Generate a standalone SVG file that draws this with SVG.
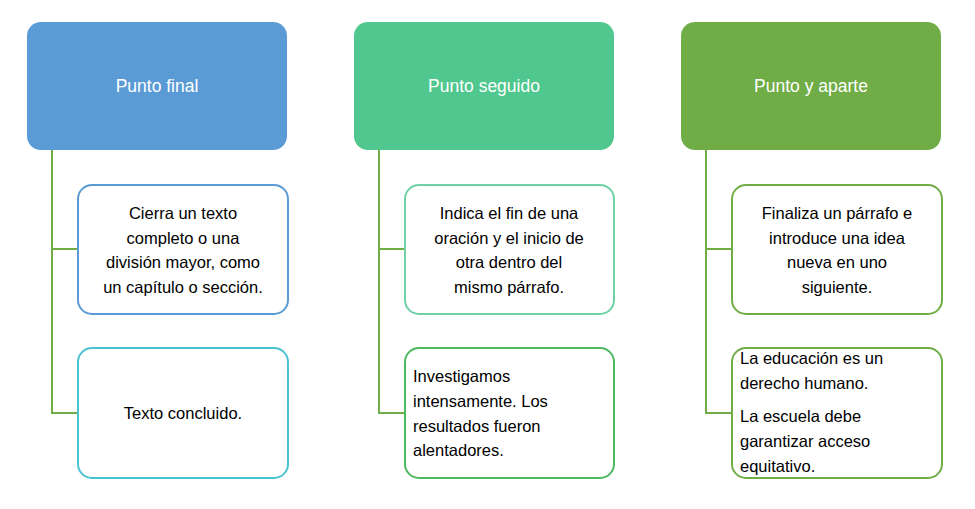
<svg xmlns="http://www.w3.org/2000/svg" width="975" height="509" viewBox="0 0 975 509">
<style>
text{font-family:"Liberation Sans",Arial,sans-serif;font-size:16.5px;fill:#000}
.h{fill:#fff;font-size:17.5px;text-anchor:middle}
.c{text-anchor:middle}
.b{fill:#fff;stroke-width:2}
.con{stroke:#70AD47;stroke-width:2;fill:none}
</style>
<rect width="975" height="509" fill="#fff"/>
<g id="connectors">
<path class="con" d="M52 150V413H78M52 249H78"/>
<path class="con" d="M379 150V413H405M379 249H405"/>
<path class="con" d="M706 150V413H732M706 249H732"/>
</g>
<g id="h1"><rect x="27" y="22" width="260" height="128" rx="14" fill="#5B9BD5"/><text class="h" x="157" y="92">Punto final</text></g>
<g id="h2"><rect x="354" y="22" width="260" height="128" rx="14" fill="#4FC78E"/><text class="h" x="484" y="92">Punto seguido</text></g>
<g id="h3"><rect x="681" y="22" width="260" height="128" rx="14" fill="#70AD47"/><text class="h" x="811" y="92">Punto y aparte</text></g>
<g id="n1a"><rect class="b" x="78" y="185" width="210" height="129" rx="14" stroke="#5B9BD5"/>
<text class="c" x="183" y="219">Cierra un texto</text><text class="c" x="183" y="244">completo o una</text><text class="c" x="183" y="268">división mayor, como</text><text class="c" x="183" y="293">un capítulo o sección.</text></g>
<g id="n1b"><rect class="b" x="78" y="348" width="210" height="130" rx="14" stroke="#4BC2D0"/><text class="c" x="183" y="419">Texto concluido.</text></g>
<g id="n2a"><rect class="b" x="405" y="185" width="209" height="129" rx="14" stroke="#6FD1A6"/>
<text class="c" x="509" y="219">Indica el fin de una</text><text class="c" x="509" y="244">oración y el inicio de</text><text class="c" x="509" y="268">otra dentro del</text><text class="c" x="509" y="293">mismo párrafo.</text></g>
<g id="n2b"><rect class="b" x="405" y="348" width="209" height="130" rx="14" stroke="#4CB860"/>
<text x="413" y="382">Investigamos</text><text x="413" y="407">intensamente. Los</text><text x="413" y="432">resultados fueron</text><text x="413" y="456">alentadores.</text></g>
<g id="n3a"><rect class="b" x="732" y="185" width="210" height="129" rx="14" stroke="#70AD47"/>
<text class="c" x="837" y="219">Finaliza un párrafo e</text><text class="c" x="837" y="244">introduce una idea</text><text class="c" x="837" y="268">nueva en uno</text><text class="c" x="837" y="293">siguiente.</text></g>
<g id="n3b"><rect class="b" x="732" y="348" width="210" height="130" rx="14" stroke="#70AD47"/>
<text x="740" y="364">La educación es un</text><text x="740" y="389">derecho humano.</text><text x="740" y="422">La escuela debe</text><text x="740" y="447">garantizar acceso</text><text x="740" y="472">equitativo.</text></g>
</svg>
